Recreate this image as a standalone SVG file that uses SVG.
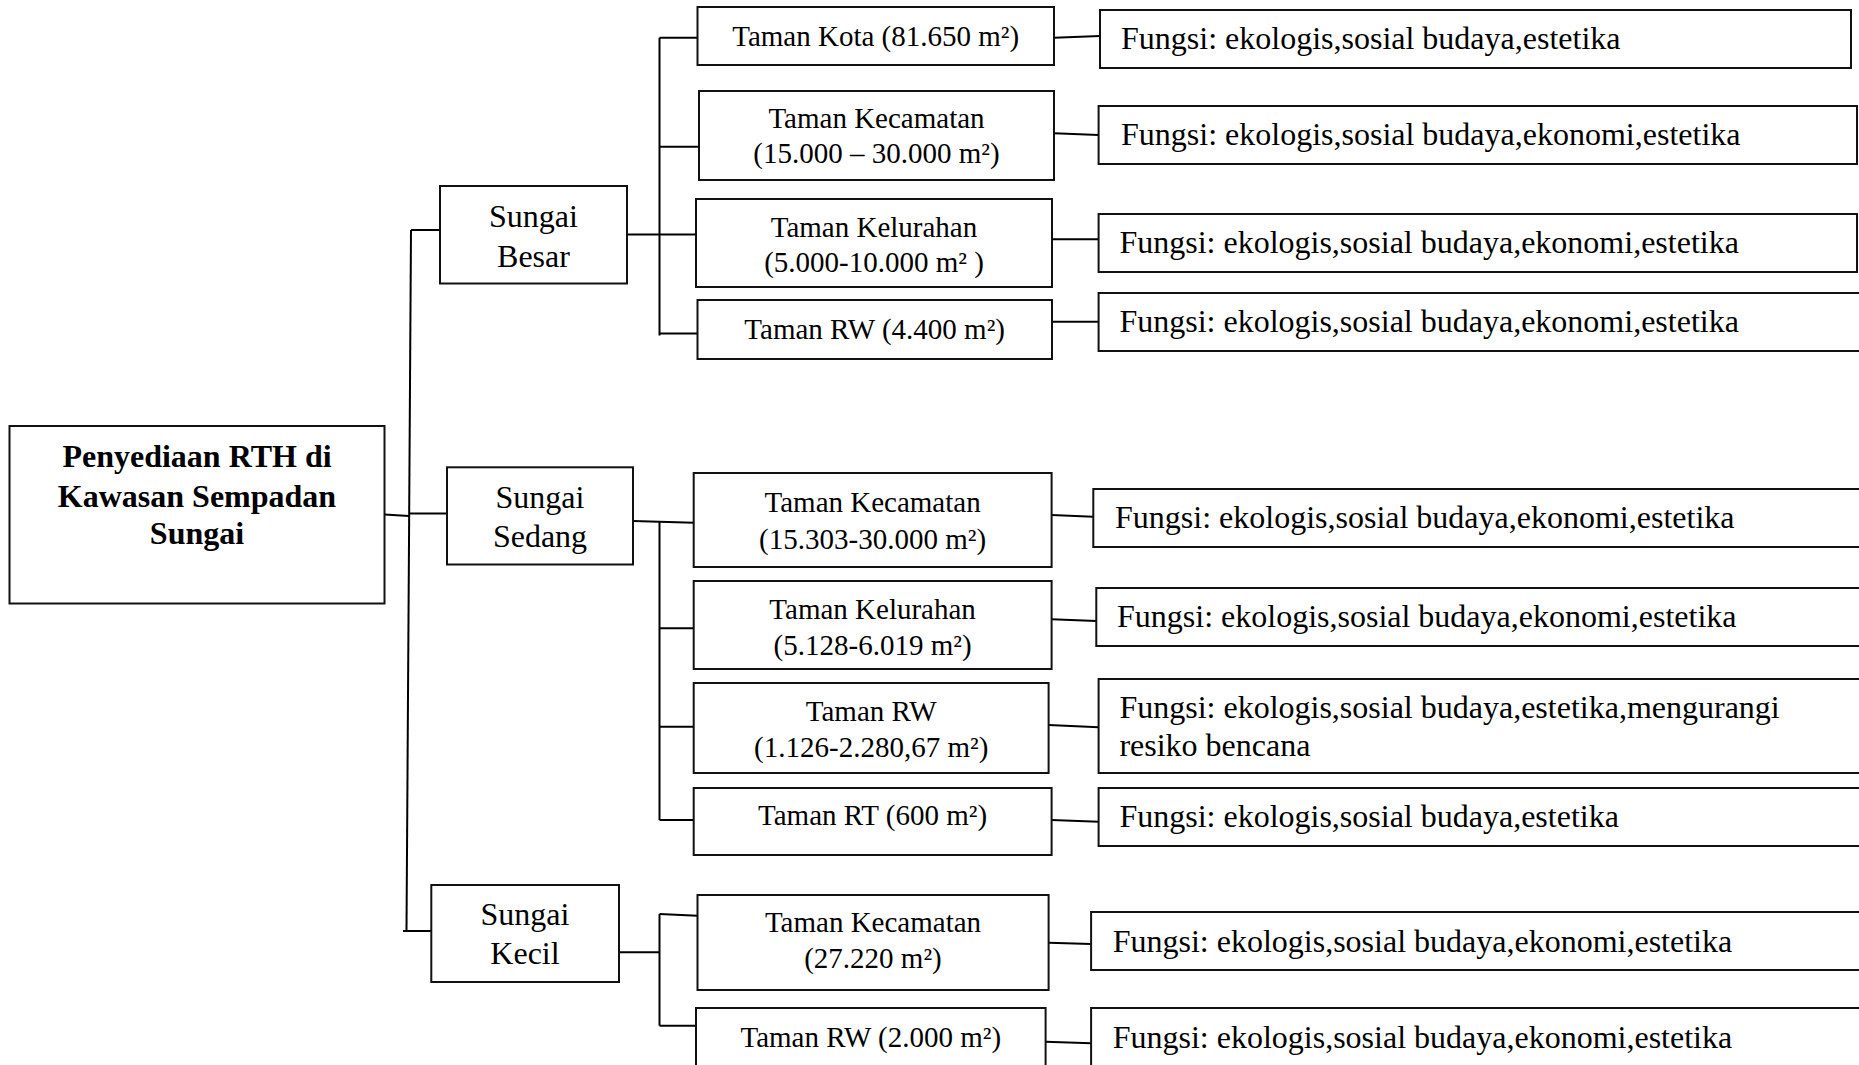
<svg xmlns="http://www.w3.org/2000/svg" width="1859" height="1065" viewBox="0 0 1859 1065">
<style>
rect{fill:#fff;stroke:#111;stroke-width:2}
.c path{fill:none;stroke:#000;stroke-width:2}
text{font-family:"Liberation Serif","Times New Roman",serif;fill:#000}
.t{font-size:29px;text-anchor:middle}
.s{font-size:32px;text-anchor:middle}
.f{font-size:32px}
.r{font-size:32px;font-weight:bold;text-anchor:middle}
</style>
<rect x="0" y="0" width="1859" height="1065" style="fill:#fff;stroke:none"/>
<g class="c" id="connectors">
<path d="M384.5,514.5 L409,516"/>
<path d="M411,230 L406.5,931"/>
<path d="M411,230 H440"/>
<path d="M403,931 H431.3"/>
<path d="M409,513.5 H447"/>
<path d="M627,234.5 H696"/>
<path d="M659.5,37.7 V335.5"/>
<path d="M659.5,37.7 H697.5"/>
<path d="M659.5,146.7 H699"/>
<path d="M659.5,333.5 H697.5"/>
<path d="M633,521 L694,522.7"/>
<path d="M659.5,521.5 V820"/>
<path d="M659.5,628.3 H694"/>
<path d="M659.5,726.7 H694"/>
<path d="M659.5,820 H694"/>
<path d="M619,952.3 H659.5"/>
<path d="M659.5,914 V1025.7"/>
<path d="M659.5,914 L697.5,915.7"/>
<path d="M659.5,1025.7 H696"/>
<path d="M1054,37.7 L1100,36"/>
<path d="M1054,133.3 L1098.6,135"/>
<path d="M1052,239.3 H1098.6"/>
<path d="M1052,321.7 H1098.6"/>
<path d="M1051.6,515 L1093.3,516.7"/>
<path d="M1051.6,619.3 L1096.3,621"/>
<path d="M1048.6,725 L1098.6,727.3"/>
<path d="M1051.6,820 L1098.6,821.7"/>
<path d="M1048.6,942.7 L1091.1,944"/>
<path d="M1045.6,1041.7 L1091.1,1043.3"/>
</g>
<g id="root"><rect x="9.5" y="426" width="375" height="177.5"/>
<text class="r" x="197" y="467">Penyediaan RTH di</text>
<text class="r" x="197" y="506.5">Kawasan Sempadan</text>
<text class="r" x="197" y="543.5">Sungai</text></g>
<g id="sungai-besar"><rect x="440" y="186" width="187" height="97.5"/>
<text class="s" x="533.5" y="227">Sungai</text><text class="s" x="533.5" y="267">Besar</text></g>
<g id="sungai-sedang"><rect x="447" y="467.3" width="186" height="97.2"/>
<text class="s" x="540" y="508">Sungai</text><text class="s" x="540" y="547">Sedang</text></g>
<g id="sungai-kecil"><rect x="431.3" y="885" width="187.7" height="97"/>
<text class="s" x="525" y="925">Sungai</text><text class="s" x="525" y="964">Kecil</text></g>

<g id="b-kota"><rect x="697.5" y="7" width="356.5" height="58"/>
<text class="t" x="875.7" y="46">Taman Kota (81.650 m²)</text></g>
<g id="b-kota-f"><rect x="1100" y="10" width="751" height="58"/>
<text class="f" x="1121" y="49">Fungsi: ekologis,sosial budaya,estetika</text></g>
<g id="b-kec"><rect x="699" y="91" width="355" height="89"/>
<text class="t" x="876.5" y="128">Taman Kecamatan</text><text class="t" x="876.5" y="163">(15.000 – 30.000 m²)</text></g>
<g id="b-kec-f"><rect x="1098.6" y="106" width="758.4" height="58"/>
<text class="f" x="1121" y="145">Fungsi: ekologis,sosial budaya,ekonomi,estetika</text></g>
<g id="b-kel"><rect x="696" y="199" width="356" height="88"/>
<text class="t" x="874" y="237">Taman Kelurahan</text><text class="t" x="874" y="272">(5.000-10.000 m² )</text></g>
<g id="b-kel-f"><rect x="1098.6" y="214" width="758.4" height="58"/>
<text class="f" x="1119.4" y="253">Fungsi: ekologis,sosial budaya,ekonomi,estetika</text></g>
<g id="b-rw"><rect x="697.5" y="300" width="354.5" height="59"/>
<text class="t" x="874.7" y="339">Taman RW (4.400 m²)</text></g>
<g id="b-rw-f"><rect x="1098.6" y="293" width="780" height="58"/>
<text class="f" x="1119.4" y="332">Fungsi: ekologis,sosial budaya,ekonomi,estetika</text></g>

<g id="s-kec"><rect x="693.7" y="473" width="357.9" height="94"/>
<text class="t" x="872.6" y="512">Taman Kecamatan</text><text class="t" x="872.6" y="549">(15.303-30.000 m²)</text></g>
<g id="s-kec-f"><rect x="1093.3" y="489" width="780" height="58"/>
<text class="f" x="1115" y="528">Fungsi: ekologis,sosial budaya,ekonomi,estetika</text></g>
<g id="s-kel"><rect x="693.7" y="581" width="357.9" height="88"/>
<text class="t" x="872.6" y="619">Taman Kelurahan</text><text class="t" x="872.6" y="655">(5.128-6.019 m²)</text></g>
<g id="s-kel-f"><rect x="1096.3" y="588" width="780" height="58"/>
<text class="f" x="1117" y="627">Fungsi: ekologis,sosial budaya,ekonomi,estetika</text></g>
<g id="s-rw"><rect x="693.7" y="683" width="354.9" height="90"/>
<text class="t" x="871.2" y="721">Taman RW</text><text class="t" x="871.2" y="757">(1.126-2.280,67 m²)</text></g>
<g id="s-rw-f"><rect x="1098.6" y="679" width="780" height="94"/>
<text class="f" x="1119.4" y="718">Fungsi: ekologis,sosial budaya,estetika,mengurangi</text><text class="f" x="1119.4" y="756">resiko bencana</text></g>
<g id="s-rt"><rect x="693.7" y="788" width="357.9" height="67"/>
<text class="t" x="872.6" y="825">Taman RT (600 m²)</text></g>
<g id="s-rt-f"><rect x="1098.6" y="788" width="780" height="58"/>
<text class="f" x="1119.4" y="827">Fungsi: ekologis,sosial budaya,estetika</text></g>

<g id="k-kec"><rect x="697.5" y="895" width="351.1" height="95"/>
<text class="t" x="873" y="932">Taman Kecamatan</text><text class="t" x="873" y="968">(27.220 m²)</text></g>
<g id="k-kec-f"><rect x="1091.1" y="912" width="790" height="58"/>
<text class="f" x="1112.7" y="952">Fungsi: ekologis,sosial budaya,ekonomi,estetika</text></g>
<g id="k-rw"><rect x="696" y="1008" width="349.6" height="80"/>
<text class="t" x="870.8" y="1047">Taman RW (2.000 m²)</text></g>
<g id="k-rw-f"><rect x="1091.1" y="1008" width="790" height="80"/>
<text class="f" x="1112.7" y="1048">Fungsi: ekologis,sosial budaya,ekonomi,estetika</text></g>
</svg>
